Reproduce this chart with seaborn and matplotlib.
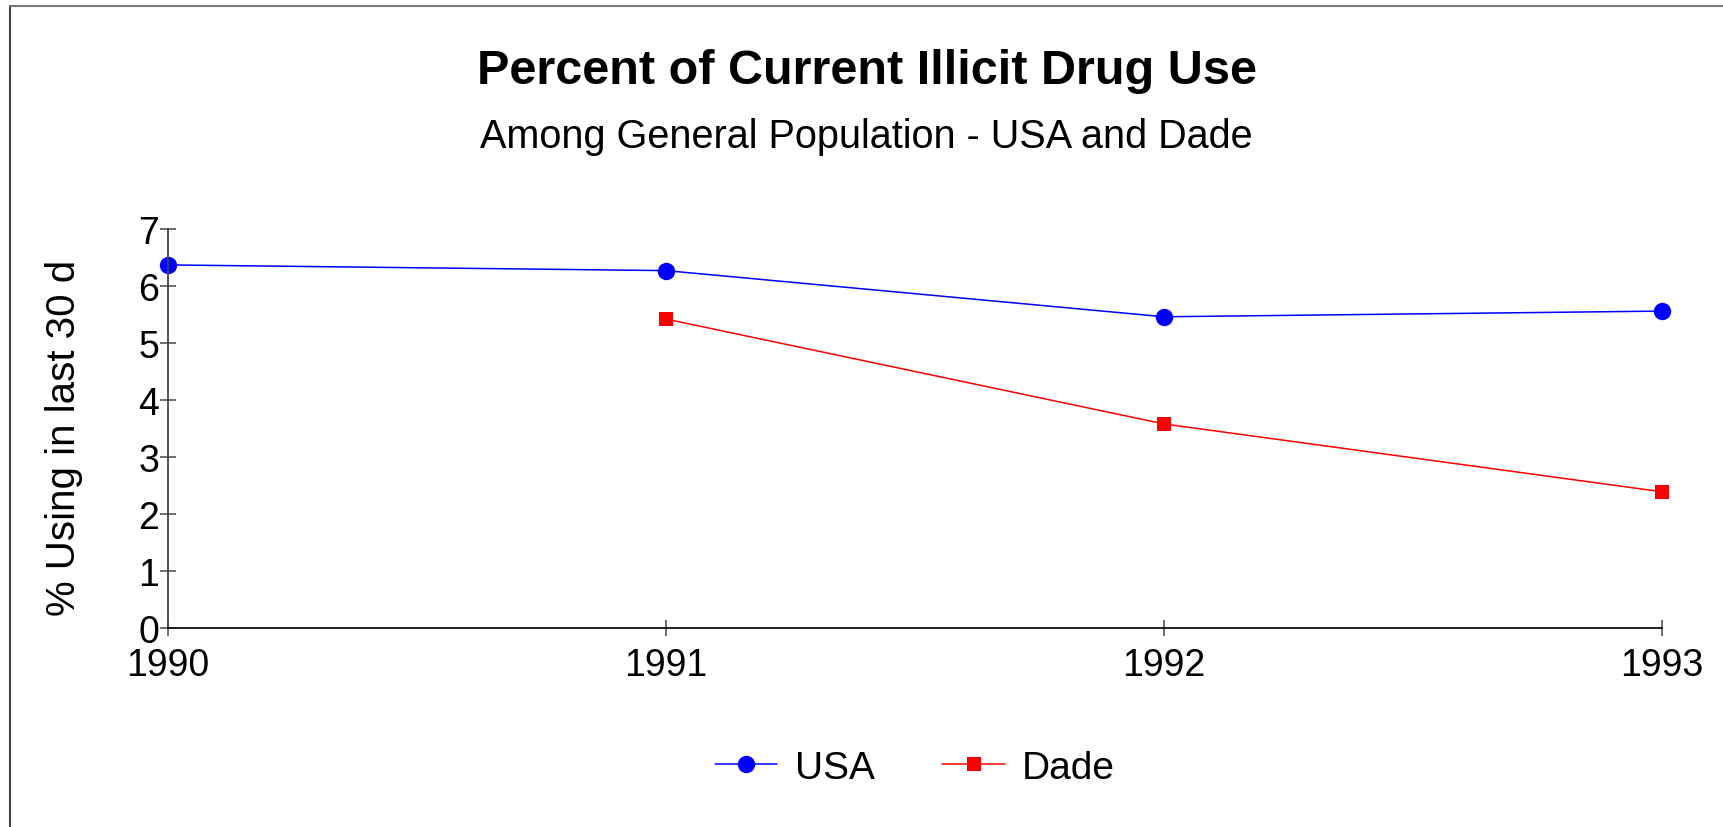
import numpy as np
import pandas as pd
import matplotlib
matplotlib.use("Agg")
import matplotlib.pyplot as plt
import seaborn as sns
from matplotlib.lines import Line2D

years = [1990, 1991, 1992, 1993]
usa = [6.37, 6.27, 5.46, 5.56]
dade = [np.nan, 5.42, 3.58, 2.39]
series_names = ["USA", "Dade"]
title = "Percent of Current Illicit Drug Use"
subtitle = "Among General Population - USA and Dade"
ylabel = "% Using in last 30 d"
yticks = [0, 1, 2, 3, 4, 5, 6, 7]

df = pd.DataFrame({
    "year": years * 2,
    "value": usa + dade,
    "series": ["USA"] * len(years) + ["Dade"] * len(years),
})

sns.set_theme(style="white")
plt.rcParams["font.family"] = ["Liberation Sans", "DejaVu Sans"]
plt.rcParams["text.color"] = "black"

fig = plt.figure(figsize=(17.23, 8.28), dpi=100)
ax = fig.add_axes([168 / 1723, 1 - 629 / 828, (1662 - 168) / 1723, (629 - 230) / 828])

sns.lineplot(
    data=df, x="year", y="value", hue="series", style="series",
    hue_order=series_names, style_order=series_names,
    palette={"USA": "#0000ff", "Dade": "#ff0000"},
    markers={"USA": "o", "Dade": "s"}, dashes=False,
    linewidth=1.1, markeredgewidth=0, ax=ax, legend=False,
)
for ln in ax.lines:
    ln.set_clip_on(False)
    if ln.get_marker() == "o":
        ln.set_markersize(12.5)
    else:
        ln.set_markersize(10)

ax.set_xlim(1990, 1993)
ax.set_ylim(0, 7)
ax.set_xticks(years)
ax.set_xticklabels([str(y) for y in years])
ax.set_yticks(yticks)
ax.tick_params(axis="both", which="major", bottom=True, left=True,
               direction="inout", length=11, width=1.2,
               color="#555555", labelsize=27, labelcolor="black")
ax.tick_params(axis="y", pad=1)
ax.tick_params(axis="x", pad=8)
ax.set_xlabel("")
ax.set_ylabel(ylabel, fontsize=29, color="black")
ax.yaxis.set_label_coords(-0.057, 0.48)
for s in ["top", "right"]:
    ax.spines[s].set_visible(False)
ax.spines["left"].set_color("#444444")
ax.spines["bottom"].set_color("#111111")
ax.spines["left"].set_linewidth(1.3)
ax.spines["bottom"].set_linewidth(1.3)

handles = [
    Line2D([], [], color="#0000ff", marker="o", markersize=12.5, linewidth=1.1, markeredgewidth=0),
    Line2D([], [], color="#ff0000", marker="s", markersize=10, linewidth=1.1, markeredgewidth=0),
]
leg = ax.legend(handles, series_names, loc="center", bbox_to_anchor=(0.5, -0.351),
                ncol=2, frameon=False, fontsize=28, handlelength=1.6,
                handletextpad=0.45, columnspacing=1.75)
for t in leg.get_texts():
    t.set_color("black")

fig.text(0.503, 1 - 72 / 828, title, ha="center", va="center",
         fontsize=35, fontweight="bold", color="black")
fig.text(0.503, 1 - 137 / 828, subtitle, ha="center", va="center",
         fontsize=28.5, color="black")

# outer frame (left and top edges)
fig.add_artist(Line2D([10 / 1723, 10 / 1723], [0, 1 - 7 / 828], transform=fig.transFigure,
                      color="#444444", linewidth=1.5))
fig.add_artist(Line2D([10 / 1723, 1], [1 - 7 / 828, 1 - 7 / 828], transform=fig.transFigure,
                      color="#777777", linewidth=1.5))

fig.savefig("out.png", dpi=100, facecolor="white")
